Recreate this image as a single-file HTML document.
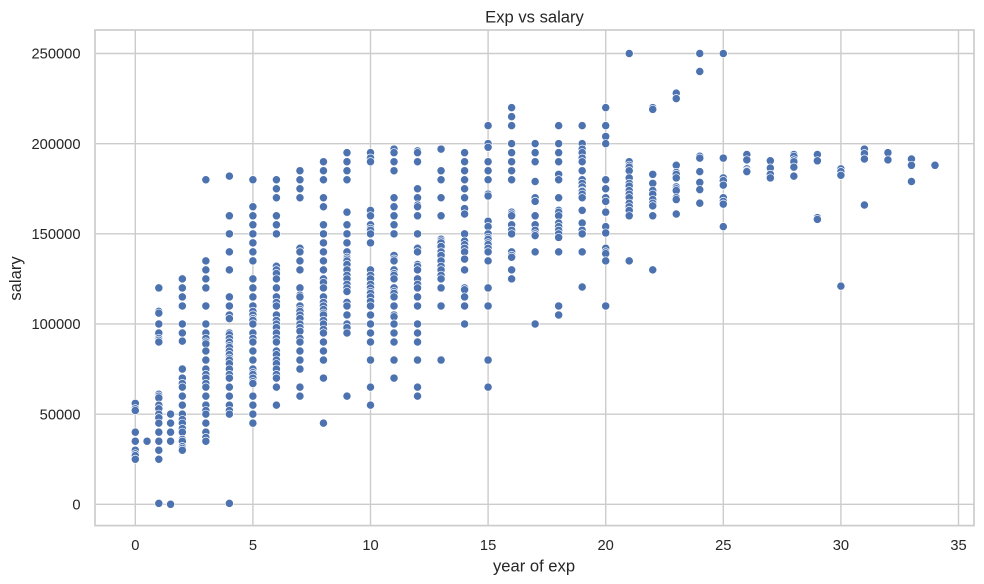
<!DOCTYPE html>
<html lang="en">
<head>
<meta charset="utf-8">
<title>Exp vs salary</title>
<style>
html,body{margin:0;padding:0;background:#fff;}
svg{display:block;}
text{font-family:"Liberation Sans",Arial,sans-serif;fill:#262626;}
</style>
</head>
<body>
<svg id="chart" xmlns="http://www.w3.org/2000/svg" width="984" height="584" viewBox="0 0 984 584">
  <rect x="0" y="0" width="984" height="584" fill="#ffffff"/>
  <g id="grid"></g>
  <g id="points"></g>
  <rect x="95" y="30" width="879" height="495.6" fill="none" stroke="#cccccc" stroke-width="1.7"/>
  <g id="xticks"></g>
  <g id="yticks"></g>
  <text x="534.5" y="22.5" text-anchor="middle" font-size="16.6">Exp vs salary</text>
  <text x="534" y="571.5" text-anchor="middle" font-size="16.6">year of exp</text>
  <text x="21" y="278.5" text-anchor="middle" font-size="16.6" transform="rotate(-90 21 278.5)">salary</text>
</svg>
<script>
const xTicks = [0, 5, 10, 15, 20, 25, 30, 35];
const yTicks = [0, 50000, 100000, 150000, 200000, 250000];
const xTickLabels = ['0', '5', '10', '15', '20', '25', '30', '35'];
const yTickLabels = ['0', '50000', '100000', '150000', '200000', '250000'];
const experienceYears = [0, 0.5, 1, 1.5, 2, 3, 4, 5, 6, 7, 8, 9, 10, 11, 12, 13, 14, 15, 16, 17, 18, 19, 20, 21, 22, 23, 24, 25, 26, 27, 28, 29, 30, 31, 32, 33, 34];
/* salary in thousands, one list per experience year */
const salaryThousandsByYear = [
  [56, 53, 52, 40, 35, 30, 28, 27, 25],
  [35],
  [120, 107, 106, 100, 95, 92, 91, 90, 61, 60, 59, 55, 53, 50, 48, 45, 40, 35, 30, 25, 0.5],
  [50, 45, 40, 35, 0],
  [125, 120, 115, 110, 100, 95, 90.5, 75, 70, 67, 65, 60, 55, 50, 47, 45, 42, 40, 36, 35, 32, 31, 30],
  [180, 135, 130, 125, 120, 110, 100, 95, 92, 90, 89, 85, 80, 75, 72, 70, 67, 65, 60, 55, 52, 50, 45, 40, 37, 35],
  [182, 160, 150, 140, 130, 115, 110, 105, 103, 95, 94, 92, 90, 88, 87, 85, 83, 81, 80, 78, 75, 72, 70, 65, 60, 55, 52, 50, 0.5],
  [180, 165, 160, 155, 150, 145, 140, 135, 125, 120, 115, 110, 107, 105, 103, 102, 100, 95, 92, 90, 85, 80, 75, 73, 72, 70, 68, 67, 60, 55, 50, 45],
  [180, 175, 170, 160, 155, 150, 132, 130, 128, 125, 120, 115, 112, 110, 105, 102, 100, 98, 95, 92, 90, 85, 83, 80, 78, 75, 72, 70, 65, 55],
  [185, 180, 175, 170, 142, 140, 135, 130, 120, 116, 115, 110, 108, 107, 105, 103, 100, 98, 96, 92, 90, 85, 80, 75, 65, 60],
  [190, 185, 180, 170, 165, 155, 150, 145, 140, 135, 130, 125, 123, 120, 115, 112, 110, 108, 106, 105, 102, 100, 97, 95, 90, 85, 80, 70, 45],
  [195, 190, 185, 180, 162, 155, 150, 145, 140, 137, 136, 135, 133, 130, 127, 125, 122, 120, 118, 112, 110, 105, 100, 98, 95, 60],
  [195, 192, 190, 163, 160, 155, 153, 152, 150, 145, 130, 127, 125, 122, 120, 118, 117, 115, 112.5, 110, 105, 100, 95, 90, 80, 65, 55],
  [197, 195, 190, 185, 170, 165, 160, 155, 150, 138, 136, 135, 130, 128, 127, 125, 120, 118, 117, 115, 110, 105, 104, 100, 95, 90, 80, 70],
  [196, 195, 190, 175, 170, 166, 165, 160, 150, 142, 140, 133, 132, 130, 125, 122, 120, 115, 110, 100, 95, 90, 80, 65, 60],
  [197, 185, 180, 170, 160, 147, 146, 145, 143, 140, 138, 135, 132, 130, 127, 125, 120, 110, 80],
  [195, 190, 185, 180, 175, 170, 164, 161, 150, 146, 144, 142, 140, 136, 130, 120, 119, 115, 110, 100],
  [210, 200, 198, 190, 185, 180, 172, 171, 157, 154, 150, 148, 147, 145, 144, 142, 140, 135, 120, 110, 80, 65],
  [220, 215, 210, 200, 195, 190, 185, 180, 162, 161, 160, 155, 152, 150, 140, 138, 137, 130, 125],
  [200, 195, 190, 179, 170, 168, 160, 155, 152, 150, 149, 140, 100],
  [210, 200, 195, 190, 183, 180, 170, 163, 162, 160, 156, 154, 152, 150, 148, 140, 110, 105],
  [210, 200, 197, 195, 192, 190, 185, 180, 178, 176, 174, 173.5, 172, 170, 163, 156, 152, 150, 140, 120.5],
  [220, 210, 204, 200, 180, 175, 170, 168, 162, 154, 150.5, 142, 140, 139, 135, 110],
  [250, 190, 188, 187, 185, 181, 178, 176.5, 174, 172, 170, 167, 165, 163, 160, 135],
  [220, 219, 183, 178, 174, 172, 169, 167, 165.5, 160, 130],
  [228, 225, 188, 184, 183, 181, 176, 175, 174, 170, 169, 161],
  [250, 240, 193, 192, 184.5, 178.5, 174.5, 167],
  [250, 192, 181, 179.5, 177, 170, 168, 166.5, 154],
  [194, 191, 186, 185, 184.5],
  [190.5, 186.5, 183, 181],
  [194, 193, 191, 190, 187, 182],
  [194, 190.5, 159, 158],
  [186, 184.5, 182.5, 121],
  [197, 194.5, 191.5, 166],
  [195, 191],
  [191.5, 188, 179],
  [188]
];

const svgNS = 'http://www.w3.org/2000/svg';
function xScale(v) { return 135.3 + v * 23.52; }
function yScale(v) { return 504.3 - v * 0.0018032; }

const gridLayer = document.getElementById('grid');
const pointLayer = document.getElementById('points');
const xTickLayer = document.getElementById('xticks');
const yTickLayer = document.getElementById('yticks');

xTicks.forEach(function (tick, i) {
  const line = document.createElementNS(svgNS, 'line');
  
  
  line.setAttribute('x1', xScale(tick));
  line.setAttribute('x2', xScale(tick));
  line.setAttribute('y1', 30);
  line.setAttribute('y2', 525.6);
  line.setAttribute('stroke', '#cccccc');
  line.setAttribute('stroke-width', '1.4');
  gridLayer.appendChild(line);
  const label = document.createElementNS(svgNS, 'text');
  
  
  label.setAttribute('x', xScale(tick));
  label.setAttribute('y', 550);
  label.setAttribute('text-anchor', 'middle');
  label.setAttribute('font-size', '14.7');
  label.textContent = xTickLabels[i];
  xTickLayer.appendChild(label);
});

yTicks.forEach(function (tick, i) {
  const line = document.createElementNS(svgNS, 'line');
  
  
  line.setAttribute('x1', 95);
  line.setAttribute('x2', 974);
  line.setAttribute('y1', yScale(tick));
  line.setAttribute('y2', yScale(tick));
  line.setAttribute('stroke', '#cccccc');
  line.setAttribute('stroke-width', '1.4');
  gridLayer.appendChild(line);
  const label = document.createElementNS(svgNS, 'text');
  
  
  label.setAttribute('x', 80.5);
  label.setAttribute('y', yScale(tick) + 5.2);
  label.setAttribute('text-anchor', 'end');
  label.setAttribute('font-size', '14.7');
  label.textContent = yTickLabels[i];
  yTickLayer.appendChild(label);
});

experienceYears.forEach(function (year, i) {
  salaryThousandsByYear[i].forEach(function (salary) {
    const dot = document.createElementNS(svgNS, 'circle');
    
    
    dot.setAttribute('cx', xScale(year));
    dot.setAttribute('cy', yScale(salary * 1000));
    dot.setAttribute('r', '4.1');
    dot.setAttribute('fill', '#4c72b0');
    dot.setAttribute('stroke', '#ffffff');
    dot.setAttribute('stroke-width', '0.7');
    pointLayer.appendChild(dot);
  });
});
</script>
</body>
</html>
